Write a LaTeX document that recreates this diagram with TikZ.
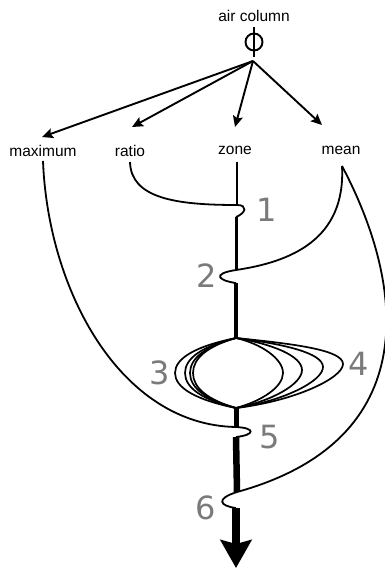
\documentclass[tikz,border=0pt]{standalone}
\usepackage{fontspec}
\setmainfont{Liberation Sans}
\newfontfamily\numfont{DejaVu Sans}
\usetikzlibrary{arrows.meta}
\definecolor{numgray}{RGB}{122,122,122}
\begin{document}
\begin{tikzpicture}[x=1pt,y=-1pt,
  lbl/.style={font=\fontsize{15.5}{16}\selectfont, inner sep=0pt},
  num/.style={font=\numfont\fontsize{32}{32}\selectfont, text=numgray, inner sep=0pt},
  arr/.style={line width=1.9pt, -{Stealth[length=11pt,width=10pt,inset=2pt]}},
  feed/.style={line width=1.8pt},
  lensline/.style={line width=1.7pt},
  trunk/.style={line cap=butt}
]
\useasboundingbox (0,0) rectangle (385,571);

% symbol
\coordinate (phi) at (254,42);
\draw[line width=1.9pt] (phi) circle[radius=8.5pt];
\draw[line width=1.9pt] (254,27) -- (254,57);
\coordinate (apex) at (253,61);

% labels
\node[lbl] (air) at (254,16) {air column};
\node[lbl] (maximum) at (43,150.5) {maximum};
\node[lbl] (ratio) at (130,150.5) {ratio};
\node[lbl] (zone) at (235,150.5) {zone};
\node[lbl] (mean) at (341,150.5) {mean};

% arrow targets
\coordinate (tmax) at (42,137);
\coordinate (trat) at (132,127);
\coordinate (tzon) at (235,127);
\coordinate (tmea) at (322,125);
\draw[arr] (apex) -- (tmax);
\draw[arr] (apex) -- (trat);
\draw[arr] (apex) -- (tzon);
\draw[arr] (apex) -- (tmea);

% junction coordinates
\coordinate (j1a) at (237,205);
\coordinate (j1b) at (236,217);
\coordinate (j2a) at (236,270);
\coordinate (j2b) at (236,283);
\coordinate (lenst) at (236,338);
\coordinate (lensb) at (236,408);
\coordinate (j5a) at (236,427);
\coordinate (j5b) at (236,437);
\coordinate (j6a) at (237,492);
\coordinate (j6b) at (236,508);
\coordinate (outlet) at (236,568);

% starting points below labels
\coordinate (smax) at (43,161);
\coordinate (srat) at (130,162);
\coordinate (szon) at (237,162);
\coordinate (smea) at (342,166);

% zone line
\draw[feed] (szon) -- (j1a);
% ratio
\draw[feed] (srat) .. controls (131,198) and (175,205) .. (j1a)
  .. controls (248,205) and (246,213) .. (j1b);
% mean left
\draw[feed] (smea) .. controls (346,240) and (290,262) .. (j2a)
  .. controls (210,274) and (220,281) .. (j2b);
% maximum
\draw[feed] (smax) .. controls (48,290) and (120,425) .. (j5a)
  .. controls (256,428) and (255,435) .. (j5b);
% mean right
\draw[feed] (smea) .. controls (405,285) and (425,440) .. (j6a)
  .. controls (215,499) and (220,506) .. (j6b);

% trunk
\draw[trunk, line width=3pt] (j1b) -- (j2a);
\draw[trunk, line width=4pt] (j2b) -- (lenst);
\draw[trunk, line width=5pt] (lensb) -- (j5a);
\draw[trunk, line width=6.5pt] (j5b) -- (j6a);
\draw[trunk, line width=7.5pt, -{Stealth[length=28pt,width=31pt,inset=4pt]}] (j6b) -- (outlet);

% lens loops
\foreach \lx/\tx/\ty in {193/283/373, 190/302/370, 185/323/367, 175/343/364}{
  \draw[lensline] (lenst) .. controls ({236-0.65*(236-\lx)},346) and (\lx,358) .. (\lx,373)
    .. controls (\lx,388) and ({236-0.65*(236-\lx)},400) .. (lensb)
    .. controls ({236+0.55*(\tx-236)},401) and (\tx,\ty+14) .. (\tx,\ty)
    .. controls (\tx,\ty-14) and ({236+0.55*(\tx-236)},344) .. cycle;
}

% numbers
\node[num] (n1) at (267,210) {1};
\node[num] (n2) at (207,276) {2};
\node[num] (n3) at (160,373) {3};
\node[num] (n4) at (359,364) {4};
\node[num] (n5) at (270,437) {5};
\node[num] (n6) at (206,508) {6};
\end{tikzpicture}
\end{document}
